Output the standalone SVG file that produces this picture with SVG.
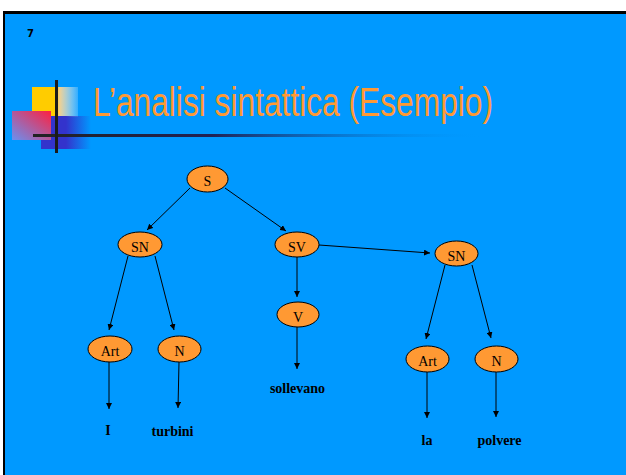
<svg xmlns="http://www.w3.org/2000/svg" width="626" height="475" viewBox="0 0 626 475">
<defs>
<style>
.node ellipse{fill:#FF9933;stroke:#000;stroke-width:1}
.node text{font-family:"Liberation Serif",serif;font-size:14px;fill:#000;text-anchor:middle}
.word{font-family:"Liberation Serif",serif;font-size:14px;font-weight:bold;fill:#000;text-anchor:middle}
.edges line{stroke:#000;stroke-width:1;marker-end:url(#arr)}
</style>
<marker id="arr" viewBox="0 0 10 10" refX="10" refY="5" markerWidth="6" markerHeight="6" markerUnits="userSpaceOnUse" orient="auto">
<path d="M0,0 L10,5 L0,10 z" fill="#000"/>
</marker>
<linearGradient id="gy" x1="0" y1="0" x2="1" y2="0">
<stop offset="0" stop-color="#FFCC00"/>
<stop offset="0.52" stop-color="#FFCC00"/>
<stop offset="0.6" stop-color="#F0D090"/>
<stop offset="1" stop-color="#FFFFFF" stop-opacity="0.2"/>
</linearGradient>
<linearGradient id="gb" x1="0" y1="0" x2="1" y2="0">
<stop offset="0" stop-color="#3333CC"/>
<stop offset="0.5" stop-color="#3333CC"/>
<stop offset="1" stop-color="#3333CC" stop-opacity="0"/>
</linearGradient>
<linearGradient id="gp" x1="1" y1="0" x2="0" y2="1">
<stop offset="0" stop-color="#FF2040"/>
<stop offset="1" stop-color="#6A90F0"/>
</linearGradient>
<linearGradient id="gl" x1="0" y1="0" x2="1" y2="0">
<stop offset="0" stop-color="#222"/>
<stop offset="0.4" stop-color="#225"/>
<stop offset="1" stop-color="#0099FF" stop-opacity="0"/>
</linearGradient>
</defs>
<rect x="0" y="0" width="626" height="475" fill="#FFFFFF"/>
<rect x="3" y="11" width="623" height="464" fill="#000"/>
<rect x="5" y="14" width="621" height="461" fill="#0099FF"/>
<text x="27" y="37" font-family="DejaVu Sans,sans-serif" font-size="10" font-weight="bold" fill="#000">7</text>
<g id="logo">
<rect x="32" y="87" width="46" height="30" fill="url(#gy)"/>
<rect x="41" y="116" width="50" height="33" fill="url(#gb)"/>
<rect x="12" y="111" width="39" height="29" fill="url(#gp)"/>
<rect x="33" y="134" width="450" height="3" fill="url(#gl)"/>
<rect x="55" y="80" width="3" height="73" fill="#1A1A1A"/>
</g>
<text x="93" y="116" font-family="Liberation Sans,Arial,sans-serif" font-size="40" fill="#FF9933" textLength="400" lengthAdjust="spacingAndGlyphs">L’analisi sintattica (Esempio)</text>
<g class="edges" id="edges">
<line x1="190" y1="188" x2="147" y2="230"/>
<line x1="225" y1="188" x2="286" y2="231"/>
<line x1="319" y1="245" x2="430" y2="253"/>
<line x1="128" y1="256" x2="109" y2="330"/>
<line x1="155" y1="256" x2="174" y2="330"/>
<line x1="297" y1="257" x2="297" y2="297"/>
<line x1="445" y1="265" x2="426" y2="339"/>
<line x1="472" y1="265" x2="491" y2="338"/>
<line x1="297" y1="327" x2="297" y2="369"/>
<line x1="109" y1="362" x2="109" y2="409"/>
<line x1="179" y1="362" x2="178" y2="408"/>
<line x1="427" y1="372" x2="427" y2="418"/>
<line x1="496" y1="372" x2="496" y2="417"/>
</g>
<g class="node" id="n-S"><ellipse cx="207.5" cy="179" rx="20.5" ry="13"/><text x="207.5" y="186">S</text></g>
<g class="node" id="n-SN1"><ellipse cx="140" cy="244.5" rx="22" ry="12.5"/><text x="140" y="251.5">SN</text></g>
<g class="node" id="n-SV"><ellipse cx="297" cy="244.5" rx="22" ry="12.5"/><text x="297" y="251.5">SV</text></g>
<g class="node" id="n-SN2"><ellipse cx="456.5" cy="253.5" rx="21.5" ry="12.5"/><text x="456.5" y="260.5">SN</text></g>
<g class="node" id="n-V"><ellipse cx="298" cy="314.5" rx="21" ry="12.5"/><text x="298" y="321.5">V</text></g>
<g class="node" id="n-Art1"><ellipse cx="110" cy="349" rx="22" ry="13"/><text x="110" y="356">Art</text></g>
<g class="node" id="n-N1"><ellipse cx="179.5" cy="349" rx="21.5" ry="13"/><text x="179.5" y="356">N</text></g>
<g class="node" id="n-Art2"><ellipse cx="427.5" cy="359" rx="21.5" ry="13"/><text x="427.5" y="366">Art</text></g>
<g class="node" id="n-N2"><ellipse cx="496.5" cy="359" rx="21.5" ry="13"/><text x="496.5" y="366">N</text></g>
<g id="words">
<text class="word" x="108" y="435">I</text>
<text class="word" x="172.5" y="436">turbini</text>
<text class="word" x="297.5" y="393">sollevano</text>
<text class="word" x="427" y="445">la</text>
<text class="word" x="499.5" y="445">polvere</text>
</g>
</svg>
